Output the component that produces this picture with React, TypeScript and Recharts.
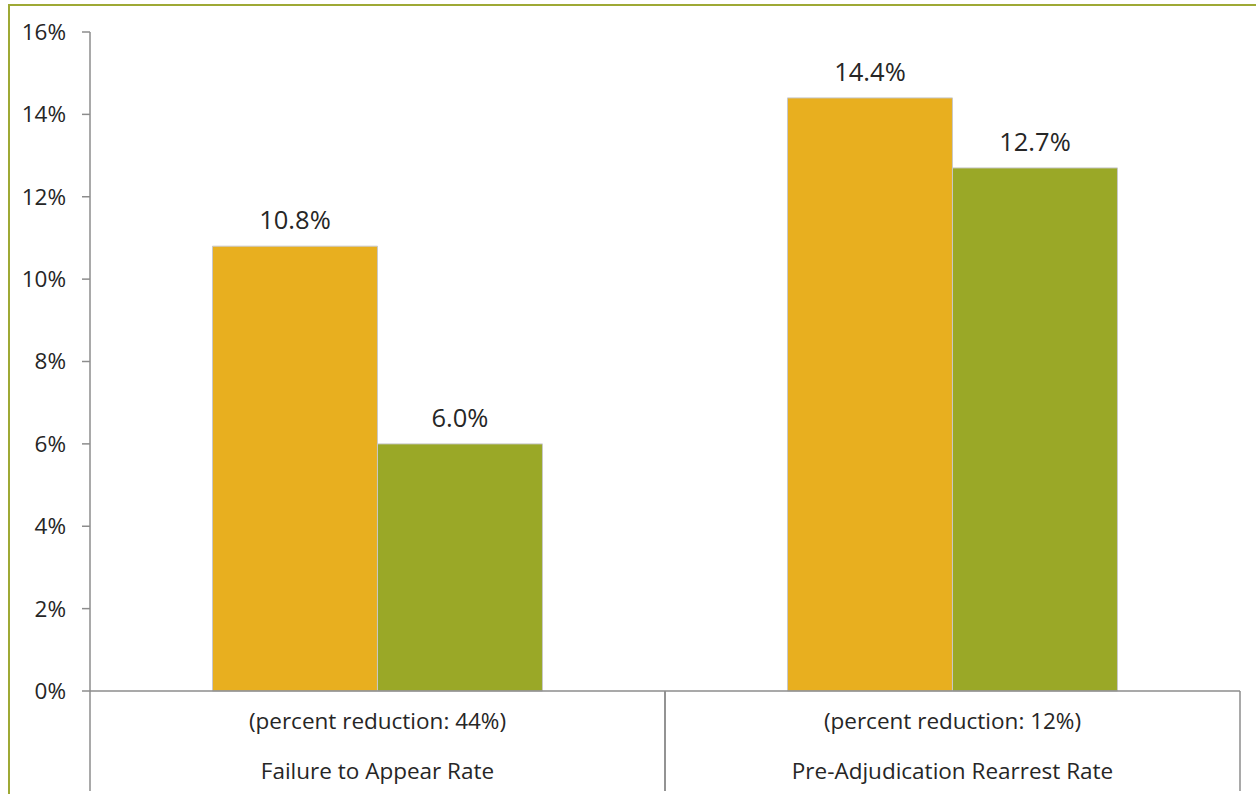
import React from 'react';
import { BarChart, Bar, XAxis, YAxis, LabelList } from 'recharts';

// Rates (%) for each outcome, before and after
const categories = ['Failure to Appear Rate', 'Pre-Adjudication Rearrest Rate'];
const reductions = ['(percent reduction: 44%)', '(percent reduction: 12%)'];
const beforeRates = [10.8, 14.4];
const afterRates = [6.0, 12.7];
const yTicks = [0, 2, 4, 6, 8, 10, 12, 14, 16];

const data = categories.map((name, i) => ({
  name,
  reduction: reductions[i],
  before: beforeRates[i],
  after: afterRates[i],
}));

const FONT = '"Open Sans", sans-serif';
const AXIS = '#8c8c8c';
const TEXT = '#262626';

const WIDTH = 1256;
const HEIGHT = 794;
const MARGIN = { top: 32, right: 16, bottom: 3, left: 0 };
const Y_AXIS_W = 90;
const X_AXIS_H = 100;
// half of one category band, used for the divider lines under the axis
const HALF_BAND = (WIDTH - MARGIN.left - MARGIN.right - Y_AXIS_W) / categories.length / 2;

// Two-line category label with Excel-style dividers on each side
const CategoryTick = (props: any) => {
  const { x, y, payload, index } = props;
  const row = data[index] ?? data.find((d) => d.name === payload.value);
  return (
    <g>
      <line x1={x - HALF_BAND} y1={y} x2={x - HALF_BAND} y2={y + 100} stroke={AXIS} strokeWidth={1.5} />
      <line x1={x + HALF_BAND} y1={y} x2={x + HALF_BAND} y2={y + 100} stroke={AXIS} strokeWidth={1.5} />
      <text x={x} y={y + 38} textAnchor="middle" fill={TEXT} fontSize={22.5} fontFamily={FONT}>
        {row?.reduction}
      </text>
      <text x={x} y={y + 88} textAnchor="middle" fill={TEXT} fontSize={22.5} fontFamily={FONT}>
        {payload.value}
      </text>
    </g>
  );
};

const App = () => {
  return (
    <div style={{ position: 'fixed', left: 0, top: 0, width: WIDTH, height: HEIGHT, background: '#fff' }}>
      <div
        style={{
          position: 'absolute',
          left: 8,
          top: 4,
          width: WIDTH - 8,
          height: HEIGHT - 4,
          borderLeft: '2px solid #9ea935',
          borderTop: '2px solid #9ea935',
          boxSizing: 'border-box',
        }}
      />
      <div style={{ position: 'absolute', left: 0, top: 0 }}>
        <BarChart
          width={WIDTH}
          height={HEIGHT}
          data={data}
          margin={MARGIN}
          barCategoryGap="21.3%"
          barGap={0}
        >
          <XAxis
            dataKey="name"
            height={X_AXIS_H}
            tickLine={false}
            tickSize={0}
            tickMargin={0}
            axisLine={{ stroke: AXIS, strokeWidth: 1.5 }}
            tick={<CategoryTick />}
            interval={0}
          />
          <YAxis
            width={Y_AXIS_W}
            domain={[0, 16]}
            ticks={yTicks}
            interval={0}
            tickFormatter={(v: number) => `${v}%`}
            axisLine={{ stroke: AXIS, strokeWidth: 1.5 }}
            tickLine={{ stroke: AXIS, strokeWidth: 1.5 }}
            tickSize={8}
            tickMargin={16}
            tick={{ fill: TEXT, fontSize: 22.5, fontFamily: FONT }}
          />
          <Bar dataKey="before" fill="#e8af1f" stroke="#c8c8c8" strokeWidth={1} isAnimationActive={false}>
            <LabelList
              dataKey="before"
              position="top"
              offset={17}
              formatter={(v: number) => `${v.toFixed(1)}%`}
              style={{ fill: TEXT, fontSize: 25.5, fontFamily: FONT }}
            />
          </Bar>
          <Bar dataKey="after" fill="#9aa827" stroke="#c8c8c8" strokeWidth={1} isAnimationActive={false}>
            <LabelList
              dataKey="after"
              position="top"
              offset={17}
              formatter={(v: number) => `${v.toFixed(1)}%`}
              style={{ fill: TEXT, fontSize: 25.5, fontFamily: FONT }}
            />
          </Bar>
        </BarChart>
      </div>
    </div>
  );
};

export default App;
